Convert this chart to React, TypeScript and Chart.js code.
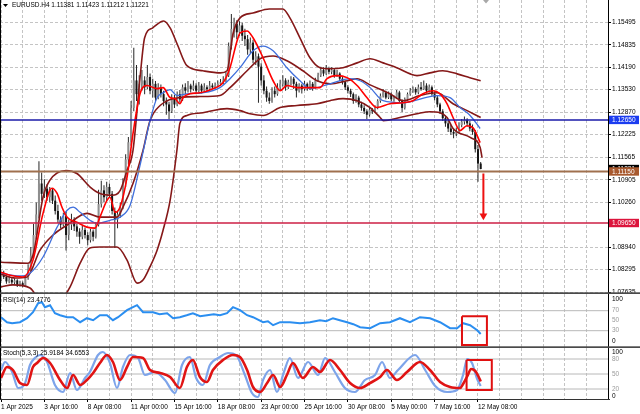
import React, { useEffect, useRef } from "react";
import { Chart, registerables } from "chart.js";

Chart.register(...registerables);

const FONT = "'Liberation Sans', Arial, sans-serif";
const GRID = "#c4c4c4";
const symbolName = "EURUSD.H4";

// H4 candles [open, high, low, close], 1 Apr 2025 00:00 -> 12 May 2025 12:00
const candles: number[][] = [
  [1.0800, 1.0822, 1.0796, 1.0815], [1.0815, 1.0826, 1.0802, 1.0808], [1.0808, 1.0812, 1.0788, 1.0795],
  [1.0795, 1.0810, 1.0790, 1.0800], [1.0800, 1.0806, 1.0785, 1.0792], [1.0792, 1.0804, 1.0787, 1.0798],
  [1.0798, 1.0801, 1.0779, 1.0785], [1.0785, 1.0797, 1.0780, 1.0790], [1.0790, 1.0795, 1.0778, 1.0782],
  [1.0782, 1.0812, 1.0780, 1.0805], [1.0805, 1.0845, 1.0800, 1.0830], [1.0830, 1.0895, 1.0825, 1.0870],
  [1.0870, 1.0962, 1.0860, 1.0930], [1.0930, 1.1025, 1.0918, 1.0990], [1.0990, 1.1145, 1.0978, 1.1080],
  [1.1080, 1.1112, 1.1030, 1.1050], [1.1050, 1.1092, 1.1038, 1.1065], [1.1065, 1.1078, 1.1030, 1.1040],
  [1.1040, 1.1070, 1.1025, 1.1060], [1.1060, 1.1066, 1.1020, 1.1030], [1.1030, 1.1045, 1.0990, 1.1000],
  [1.1000, 1.1018, 1.0965, 1.0975], [1.0975, 1.0985, 1.0950, 1.0960], [1.0960, 1.0995, 1.0955, 1.0985],
  [1.0985, 1.0998, 1.0885, 1.0930], [1.0930, 1.0975, 1.0915, 1.0960], [1.0960, 1.0992, 1.0945, 1.0975],
  [1.0975, 1.0982, 1.0942, 1.0955], [1.0955, 1.0962, 1.0925, 1.0940], [1.0940, 1.0950, 1.0905, 1.0925],
  [1.0925, 1.0958, 1.0918, 1.0945], [1.0945, 1.0952, 1.0920, 1.0930], [1.0930, 1.0938, 1.0900, 1.0915],
  [1.0915, 1.0948, 1.0908, 1.0940], [1.0940, 1.0946, 1.0912, 1.0925], [1.0925, 1.0968, 1.0920, 1.0960],
  [1.0960, 1.1062, 1.0955, 1.1020], [1.1020, 1.1088, 1.1010, 1.1060], [1.1060, 1.1075, 1.1025, 1.1040],
  [1.1040, 1.1085, 1.1030, 1.1070], [1.1070, 1.1080, 1.1040, 1.1050], [1.1050, 1.1058, 1.0990, 1.1000],
  [1.1000, 1.1010, 1.0892, 1.0975], [1.0975, 1.1000, 1.0950, 1.0990], [1.0990, 1.1025, 1.0980, 1.1010],
  [1.1010, 1.1095, 1.1005, 1.1080], [1.1080, 1.1165, 1.1070, 1.1150], [1.1150, 1.1215, 1.1135, 1.1200],
  [1.1200, 1.1320, 1.1190, 1.1300], [1.1300, 1.1475, 1.1290, 1.1380], [1.1380, 1.1425, 1.1320, 1.1340],
  [1.1340, 1.1395, 1.1310, 1.1370], [1.1370, 1.1410, 1.1350, 1.1380], [1.1380, 1.1392, 1.1340, 1.1360],
  [1.1360, 1.1425, 1.1355, 1.1390], [1.1390, 1.1400, 1.1340, 1.1350], [1.1350, 1.1385, 1.1330, 1.1370],
  [1.1370, 1.1378, 1.1320, 1.1330], [1.1330, 1.1372, 1.1325, 1.1360], [1.1360, 1.1368, 1.1330, 1.1340],
  [1.1340, 1.1350, 1.1305, 1.1320], [1.1320, 1.1330, 1.1280, 1.1310], [1.1310, 1.1318, 1.1268, 1.1290],
  [1.1290, 1.1340, 1.1285, 1.1330], [1.1330, 1.1338, 1.1300, 1.1310], [1.1310, 1.1348, 1.1305, 1.1340],
  [1.1340, 1.1352, 1.1315, 1.1325], [1.1325, 1.1368, 1.1320, 1.1360], [1.1360, 1.1372, 1.1340, 1.1350],
  [1.1350, 1.1378, 1.1345, 1.1365], [1.1365, 1.1370, 1.1345, 1.1355], [1.1355, 1.1380, 1.1350, 1.1365],
  [1.1365, 1.1372, 1.1340, 1.1350], [1.1350, 1.1375, 1.1345, 1.1365], [1.1365, 1.1370, 1.1342, 1.1350],
  [1.1350, 1.1372, 1.1346, 1.1360], [1.1360, 1.1366, 1.1348, 1.1355], [1.1355, 1.1378, 1.1352, 1.1365],
  [1.1365, 1.1372, 1.1355, 1.1360], [1.1360, 1.1374, 1.1356, 1.1365], [1.1365, 1.1380, 1.1360, 1.1370],
  [1.1370, 1.1384, 1.1364, 1.1375], [1.1375, 1.1392, 1.1368, 1.1380], [1.1380, 1.1405, 1.1375, 1.1395],
  [1.1395, 1.1490, 1.1390, 1.1480], [1.1480, 1.1573, 1.1470, 1.1530], [1.1530, 1.1562, 1.1505, 1.1545],
  [1.1545, 1.1555, 1.1500, 1.1520], [1.1520, 1.1552, 1.1510, 1.1540], [1.1540, 1.1548, 1.1495, 1.1510],
  [1.1510, 1.1530, 1.1480, 1.1500], [1.1500, 1.1512, 1.1455, 1.1470], [1.1470, 1.1505, 1.1460, 1.1490],
  [1.1490, 1.1498, 1.1430, 1.1440], [1.1440, 1.1465, 1.1425, 1.1450], [1.1450, 1.1458, 1.1315, 1.1420],
  [1.1420, 1.1430, 1.1365, 1.1380], [1.1380, 1.1395, 1.1340, 1.1350], [1.1350, 1.1362, 1.1318, 1.1330],
  [1.1330, 1.1345, 1.1312, 1.1320], [1.1320, 1.1360, 1.1315, 1.1350], [1.1350, 1.1362, 1.1330, 1.1340],
  [1.1340, 1.1372, 1.1335, 1.1360], [1.1360, 1.1382, 1.1352, 1.1370], [1.1370, 1.1395, 1.1362, 1.1380],
  [1.1380, 1.1386, 1.1350, 1.1360], [1.1360, 1.1382, 1.1355, 1.1375], [1.1375, 1.1392, 1.1366, 1.1385],
  [1.1385, 1.1390, 1.1355, 1.1370], [1.1370, 1.1376, 1.1330, 1.1350], [1.1350, 1.1372, 1.1345, 1.1365],
  [1.1365, 1.1370, 1.1342, 1.1355], [1.1355, 1.1378, 1.1350, 1.1370], [1.1370, 1.1374, 1.1350, 1.1360],
  [1.1360, 1.1380, 1.1352, 1.1370], [1.1370, 1.1375, 1.1350, 1.1360], [1.1360, 1.1388, 1.1356, 1.1380],
  [1.1380, 1.1402, 1.1375, 1.1395], [1.1395, 1.1420, 1.1390, 1.1410], [1.1410, 1.1418, 1.1392, 1.1400],
  [1.1400, 1.1425, 1.1396, 1.1415], [1.1415, 1.1420, 1.1398, 1.1405], [1.1405, 1.1418, 1.1398, 1.1410],
  [1.1410, 1.1414, 1.1388, 1.1395], [1.1395, 1.1410, 1.1390, 1.1400], [1.1400, 1.1404, 1.1378, 1.1385],
  [1.1385, 1.1392, 1.1368, 1.1375], [1.1375, 1.1380, 1.1352, 1.1360], [1.1360, 1.1366, 1.1342, 1.1350],
  [1.1350, 1.1356, 1.1332, 1.1340], [1.1340, 1.1345, 1.1312, 1.1320], [1.1320, 1.1340, 1.1315, 1.1330],
  [1.1330, 1.1335, 1.1302, 1.1310], [1.1310, 1.1318, 1.1292, 1.1300], [1.1300, 1.1308, 1.1282, 1.1290],
  [1.1290, 1.1296, 1.1268, 1.1280], [1.1280, 1.1302, 1.1275, 1.1295], [1.1295, 1.1300, 1.1282, 1.1290],
  [1.1290, 1.1308, 1.1286, 1.1300], [1.1300, 1.1325, 1.1296, 1.1320], [1.1320, 1.1342, 1.1315, 1.1335],
  [1.1335, 1.1355, 1.1330, 1.1345], [1.1345, 1.1350, 1.1325, 1.1330], [1.1330, 1.1348, 1.1326, 1.1340],
  [1.1340, 1.1345, 1.1320, 1.1325], [1.1325, 1.1336, 1.1318, 1.1330], [1.1330, 1.1352, 1.1326, 1.1345],
  [1.1345, 1.1350, 1.1315, 1.1320], [1.1320, 1.1325, 1.1288, 1.1300], [1.1300, 1.1330, 1.1295, 1.1325],
  [1.1325, 1.1345, 1.1320, 1.1340], [1.1340, 1.1358, 1.1335, 1.1350], [1.1350, 1.1362, 1.1344, 1.1355],
  [1.1355, 1.1360, 1.1338, 1.1345], [1.1345, 1.1368, 1.1340, 1.1360], [1.1360, 1.1375, 1.1350, 1.1355],
  [1.1355, 1.1380, 1.1352, 1.1365], [1.1365, 1.1372, 1.1342, 1.1350], [1.1350, 1.1368, 1.1345, 1.1360],
  [1.1360, 1.1365, 1.1335, 1.1340], [1.1340, 1.1348, 1.1322, 1.1330], [1.1330, 1.1335, 1.1302, 1.1310],
  [1.1310, 1.1315, 1.1282, 1.1290], [1.1290, 1.1296, 1.1262, 1.1270], [1.1270, 1.1278, 1.1245, 1.1255],
  [1.1255, 1.1262, 1.1230, 1.1240], [1.1240, 1.1250, 1.1222, 1.1230], [1.1230, 1.1240, 1.1212, 1.1225],
  [1.1225, 1.1242, 1.1218, 1.1230], [1.1230, 1.1258, 1.1226, 1.1250], [1.1250, 1.1268, 1.1244, 1.1260],
  [1.1260, 1.1275, 1.1252, 1.1265], [1.1265, 1.1270, 1.1245, 1.1255], [1.1255, 1.1262, 1.1232, 1.1240],
  [1.1240, 1.1252, 1.1222, 1.1230], [1.1230, 1.1236, 1.1170, 1.1180], [1.1180, 1.1192, 1.1085, 1.1138],
  [1.11381, 1.11423, 1.11212, 1.11221],
];

const dateTickIdx = [0, 16, 32, 48, 64, 80, 96, 112, 128, 144, 160, 176];
const dateTickLabels = [
  "1 Apr 2025", "3 Apr 16:00", "8 Apr 08:00", "11 Apr 00:00", "15 Apr 16:00", "18 Apr 08:00",
  "23 Apr 00:00", "25 Apr 16:00", "30 Apr 08:00", "5 May 00:00", "7 May 16:00", "12 May 08:00",
];
const priceTicks = [1.15495, 1.14835, 1.1419, 1.1353, 1.1287, 1.12225, 1.11565, 1.10905, 1.1026, 1.0894, 1.08295, 1.07635];

// Bollinger bands [bar index, price]
const bbUpper: number[][] = [
  [0, 1.0851], [10, 1.0848], [12, 1.0877], [15.5, 1.104], [18, 1.1089], [24, 1.1118], [28, 1.1109],
  [33, 1.1069], [36.5, 1.1051], [41, 1.1046], [44, 1.106], [46.5, 1.1118], [48.7, 1.1176], [51.3, 1.1388],
  [53, 1.1504], [56, 1.1533], [60, 1.1553], [62.4, 1.1533], [65, 1.1486], [68.6, 1.1423], [74.5, 1.1408],
  [81, 1.1402], [83.4, 1.1408], [85.6, 1.1515], [88.2, 1.1562], [93, 1.1576], [99, 1.1588], [104, 1.1588],
  [106.6, 1.1562], [110.3, 1.1504], [114, 1.1446], [117.7, 1.1417], [121.4, 1.1414], [126.2, 1.1417],
  [131.4, 1.1431], [136.2, 1.1443], [141, 1.1431], [146, 1.1417], [151, 1.1399], [153.5, 1.1394],
  [158.3, 1.1402], [163, 1.1408], [168.3, 1.1399], [173, 1.1388], [177, 1.1379],
];
const bbMiddle: number[][] = [
  [0, 1.0816], [5.2, 1.0805], [9.6, 1.0808], [14.4, 1.0886], [19.2, 1.093], [24.4, 1.0959], [31.7, 1.0993],
  [36.5, 1.0982], [42.8, 1.0982], [45, 1.1011], [48.7, 1.108], [52.4, 1.1176], [55, 1.1263], [58.7, 1.1307],
  [66, 1.133], [73.4, 1.1333], [80.8, 1.1336], [84.5, 1.1359], [90.8, 1.1408], [95.6, 1.1443], [100.4, 1.1451],
  [105.5, 1.1437], [111.4, 1.1408], [116.6, 1.1379], [121.4, 1.137], [127.7, 1.1379], [131.4, 1.1385],
  [136.2, 1.1367], [143.5, 1.1341], [148.3, 1.1321], [154.6, 1.1336], [160.9, 1.1344], [166.8, 1.1312],
  [172, 1.1292], [177, 1.1272],
];
const bbLower: number[][] = [
  [0, 1.0779], [4.4, 1.0785], [10.7, 1.0776], [16, 1.0725], [22, 1.074], [25.5, 1.0779], [29.2, 1.0848],
  [32.8, 1.0892], [36.5, 1.0895], [42.8, 1.0895], [46.5, 1.0857], [50.2, 1.079], [52.4, 1.0799],
  [55, 1.0838], [57.6, 1.0886], [59.8, 1.0944], [62.4, 1.1031], [64.9, 1.1176], [66, 1.1255], [68.6, 1.1278],
  [74.5, 1.1286], [83.4, 1.1298], [88.2, 1.1292], [91.9, 1.1283], [96.7, 1.1278], [103, 1.1301],
  [109.2, 1.1307], [116.6, 1.1312], [121.4, 1.1321], [126.2, 1.1327], [131.4, 1.1321], [136.2, 1.1301],
  [139.9, 1.1272], [141, 1.1263], [147.2, 1.1272], [153.5, 1.1283], [158.3, 1.1289], [162, 1.1286],
  [164.6, 1.1272], [166.8, 1.124], [173.1, 1.1214], [176.8, 1.1185], [177.5, 1.1155],
];
// Moving averages [bar index, price]
const maSlow: number[][] = [
  [0, 1.0819], [7, 1.0811], [10.7, 1.0819], [15.5, 1.0866], [20.7, 1.0953], [24.4, 1.1002], [26.6, 1.1011],
  [29.2, 1.0996], [32.8, 1.0973], [35.4, 1.0964], [40.2, 1.0973], [43.9, 1.0982], [47.6, 1.1016],
  [51.3, 1.1133], [55, 1.1263], [57.6, 1.133], [59.8, 1.1344], [62.4, 1.1353], [64.9, 1.1336],
  [68.6, 1.1341], [74.5, 1.1344], [80.8, 1.1359], [84.5, 1.1385], [88.2, 1.1417], [93, 1.1466],
  [96.7, 1.148], [100.4, 1.1466], [105.5, 1.1417], [110.3, 1.1379], [114, 1.1356], [121.4, 1.137],
  [128.8, 1.1385], [132.5, 1.1379], [136.2, 1.1359], [141, 1.1321], [148.3, 1.1315], [160.9, 1.1336],
  [165.7, 1.133], [169.4, 1.1301], [173.1, 1.1278], [176.8, 1.124],
];
const maFast: number[][] = [
  [0, 1.0822], [3.3, 1.0813], [8.1, 1.0808], [11.8, 1.0857], [15.5, 1.0993], [18.8, 1.1066], [20.7, 1.1051],
  [22.5, 1.1011], [24.4, 1.0982], [28, 1.0967], [31.7, 1.0953], [34.7, 1.095], [36.5, 1.0982], [39.1, 1.1031],
  [40.2, 1.104], [42.1, 1.0996], [43.9, 1.1011], [46.5, 1.1098], [48.7, 1.1225], [51.3, 1.1341],
  [53.9, 1.1365], [57.6, 1.1356], [59.8, 1.1359], [62.4, 1.133], [64.2, 1.1327], [66, 1.1312], [67.2, 1.133],
  [69.7, 1.1341], [73.4, 1.1344], [78.2, 1.1356], [81.9, 1.1373], [84.5, 1.1417], [87.1, 1.1495],
  [88.2, 1.1518], [90.8, 1.1524], [93, 1.1504], [96.7, 1.1446], [100.4, 1.1379], [103, 1.135],
  [105.5, 1.1365], [109.2, 1.1359], [117.7, 1.1359], [120.3, 1.1385], [124, 1.1394], [127.7, 1.1388],
  [131.4, 1.1365], [135, 1.133], [138.7, 1.1301], [143.5, 1.1312], [148.3, 1.1315], [152, 1.1321],
  [155.7, 1.1341], [159.4, 1.135], [162, 1.1341], [164.6, 1.1312], [166.8, 1.1272], [169.4, 1.1234],
  [171.9, 1.1248], [174.2, 1.1242], [176.8, 1.1199],
];

const levelBlue = 1.1265;
const levelBrown = 1.1115;
const levelRed = 1.0965;
const arrowPts: number[][] = [[178, 1.1109], [178, 1.0986]];

const rsiTitle = "RSI(14) 23.4776";
const rsiPoints: number[][] = [
  [0, 57], [2.2, 47], [4.1, 45], [7, 47], [9.6, 55], [11.8, 67], [13.7, 85], [15.1, 87], [16.2, 77],
  [18.1, 81], [19.9, 65], [21.8, 61], [24.4, 57], [26.6, 57], [29.2, 47], [31.7, 55], [34, 51], [36.5, 61],
  [39.1, 61], [41.3, 51], [43.2, 57], [46.5, 71], [48.7, 77], [50.2, 81], [52.4, 67], [56.1, 67], [58.5, 63],
  [61.3, 65], [63.5, 55], [66, 57], [68.5, 61], [70.8, 65], [73.5, 59], [76, 61], [78.5, 63], [80.8, 61],
  [83.4, 65], [85.6, 77], [88.2, 71], [90.8, 61], [93, 57], [96.7, 47], [98.5, 49], [100.4, 41], [103, 47],
  [106.6, 47], [110.3, 45], [114, 47], [117.7, 51], [120, 49], [122.5, 55], [125, 51], [127.7, 47],
  [130, 43], [132.5, 37], [136.2, 35], [139.9, 45], [143.5, 47], [147.2, 55], [150.9, 47], [154.6, 57],
  [158.3, 55], [162, 47], [165.7, 35], [168.3, 35], [170.5, 45], [173.1, 41], [175.7, 31], [177, 23.5],
];
const rsiLevels = [30, 70];
const rsiAxisVals = [100, 70, 50, 30, 0];
const rsiBox: number[][] = [[170.1, 59], [179.3, 59], [179.3, 1.5], [170.1, 1.5], [170.1, 59]];

const stochTitle = "Stoch(5,3,3) 25.9184 34.6553";
const stochMain: number[][] = [
  [0, 58], [1.5, 74], [4.1, 54], [6.3, 22], [8.9, 32], [10.7, 68], [12.5, 82], [14.4, 88], [17, 74],
  [19.9, 28], [22.9, 14], [25.5, 52], [28, 18], [31, 42], [32.8, 54], [35.8, 88], [37.6, 94], [40.2, 72],
  [42.8, 22], [45, 64], [47.6, 88], [50.6, 82], [53.1, 48], [56.8, 54], [60.5, 38], [64.2, 12], [66.8, 68],
  [69.7, 84], [72, 42], [74.5, 28], [77.1, 68], [80.8, 84], [83.8, 92], [86.7, 88], [90, 48], [92.6, 12],
  [94.8, 4], [96.7, 38], [99.3, 58], [101.8, 14], [104.4, 54], [106.6, 82], [109.6, 42], [113.3, 74],
  [117, 48], [119.6, 82], [123.2, 54], [126.9, 22], [130.6, 14], [134.3, 38], [138, 48], [140.6, 74],
  [143.5, 42], [146.5, 58], [152.8, 88], [156.5, 58], [160.2, 26], [164.6, 14], [168.3, 18], [170.5, 48],
  [172, 80], [173.8, 72], [175.7, 40], [177, 26],
];
const stochSignal: number[][] = [
  [0, 42], [2.2, 64], [4.4, 58], [7, 32], [9.6, 28], [11.8, 64], [13.3, 72], [15.5, 82], [18.1, 72],
  [21.8, 38], [24.4, 22], [26.6, 48], [29.2, 28], [31.7, 38], [34, 52], [36.5, 72], [39.1, 88], [41.3, 74],
  [43.9, 38], [46.5, 64], [48.7, 84], [52.4, 82], [55, 58], [58.7, 52], [62.4, 44], [66, 22], [68.6, 64],
  [70.8, 78], [73.4, 44], [76, 34], [78.2, 58], [81.9, 78], [85.6, 88], [88.2, 84], [90.8, 58], [93, 24],
  [95.6, 14], [98.2, 32], [100.4, 48], [103, 24], [105.5, 48], [107.7, 72], [111.4, 42], [115.1, 64],
  [117.7, 54], [121.4, 78], [125.1, 58], [128.8, 32], [132.5, 22], [136.2, 32], [139.9, 44], [142.4, 58],
  [146.1, 38], [149.8, 54], [154.6, 74], [158.3, 58], [162, 34], [165.7, 24], [169.4, 22], [170.5, 30],
  [172, 45], [173.5, 60], [175, 56], [176.1, 46], [177, 35],
];
const stochLevels = [20, 50, 80];
const stochAxisVals = [100, 80, 50, 20, 0];
const stochBox: number[][] = [[171.8, 78], [181.1, 78], [181.1, 18], [171.8, 18], [171.8, 78]];

const X_MIN = -0.37;
const X_MAX = 223.98;
const Y_MAX = 1.1614;
const Y_MIN = 1.07584;

const pts = (a: number[][]) => a.map(([x, y]) => ({ x, y }));
const hline = (v: number) => [{ x: X_MIN - 2, y: v }, { x: X_MAX + 2, y: v }];

function lineDs(data: any[], color: string, width: number, extra: any = {}) {
  return {
    type: "line",
    data,
    borderColor: color,
    backgroundColor: color,
    borderWidth: width,
    pointRadius: 0,
    fill: false,
    cubicInterpolationMode: "monotone",
    ...extra,
  };
}

function makeX(showLabels: boolean) {
  return {
    type: "linear",
    min: X_MIN,
    max: X_MAX,
    offset: false,
    afterBuildTicks: (s: any) => {
      const t: any[] = [];
      for (let v = 0; v <= X_MAX; v += 8) t.push({ value: v });
      s.ticks = t;
    },
    afterFit: (s: any) => {
      s.height = showLabels ? 15 : 0;
      s.paddingLeft = 0;
      s.paddingRight = 0;
    },
    grid: {
      display: true,
      color: GRID,
      lineWidth: 1,
      offset: false,
      drawTicks: showLabels,
      tickLength: 3,
      tickColor: (c: any) => (c.tick && dateTickIdx.indexOf(c.tick.value) >= 0 ? "#000" : "rgba(0,0,0,0)"),
    },
    border: { display: false, dash: [3, 2] },
    ticks: {
      display: showLabels,
      autoSkip: false,
      maxRotation: 0,
      minRotation: 0,
      align: "start",
      padding: 1,
      color: "#000",
      font: { family: FONT, size: 6.5 },
      callback: (v: any) => {
        const k = dateTickIdx.indexOf(Number(v));
        return k >= 0 ? dateTickLabels[k] : "";
      },
    },
  };
}

function hiddenY(min: number, max: number) {
  return {
    type: "linear",
    position: "right",
    min,
    max,
    afterFit: (s: any) => {
      s.width = 32;
      s.paddingTop = 0;
      s.paddingBottom = 0;
    },
    grid: { display: false },
    border: { display: false },
    ticks: { display: false },
  };
}

const baseOptions = {
  animation: false,
  responsive: false,
  devicePixelRatio: 1,
  events: [],
  layout: { padding: 0, autoPadding: false },
  plugins: { legend: { display: false }, tooltip: { enabled: false }, title: { display: false } },
};

function subPanelOverlay(id: string, title: string, titleY: number, axisVals: number[], clampTop: number, clampBottom: number, bottomLine: boolean) {
  return {
    id,
    afterDraw(chart: any) {
      const { ctx, chartArea: a, scales, height } = chart;
      ctx.save();
      ctx.fillStyle = "#000";
      ctx.fillRect(0, 0, 1, a.bottom);
      ctx.fillRect(a.right, 0, 1, a.bottom);
      if (bottomLine) {
        ctx.fillStyle = "#333";
        ctx.fillRect(0, a.bottom, a.right + 2, 1);
      } else {
        ctx.fillStyle = "#4a4a4a";
        ctx.fillRect(0, height - 1.7, 640, 1.7);
      }
      ctx.font = `6.5px ${FONT}`;
      ctx.textBaseline = "middle";
      ctx.textAlign = "left";
      ctx.fillStyle = "#000";
      ctx.fillText(title, 3, titleY);
      for (const v of axisVals) {
        let py = scales.y.getPixelForValue(v);
        py = Math.max(clampTop, Math.min(clampBottom, py));
        ctx.fillStyle = v === 0 || v === 100 ? "#000" : "#9a9a9a";
        ctx.fillText(String(v), a.right + 4, py);
      }
      ctx.restore();
    },
  };
}

export default function App() {
  const mainRef = useRef<HTMLCanvasElement>(null);
  const rsiRef = useRef<HTMLCanvasElement>(null);
  const stochRef = useRef<HTMLCanvasElement>(null);

  useEffect(() => {
    document.body.style.margin = "0";
    Chart.defaults.font.family = FONT;
    const charts: Chart[] = [];

    const last = candles[candles.length - 1];
    const mainOverlay = {
      id: "mainOverlay",
      afterDraw(chart: any) {
        const { ctx, chartArea: a, scales } = chart;
        ctx.save();
        ctx.fillStyle = "#000";
        ctx.fillRect(0, 0, 1, a.bottom);
        ctx.fillRect(a.right, 0, 1, a.bottom);
        ctx.fillStyle = "#4a4a4a";
        ctx.fillRect(0, 292.3, 640, 1.7);
        // header
        ctx.font = `6.5px ${FONT}`;
        ctx.textBaseline = "middle";
        ctx.textAlign = "left";
        ctx.fillStyle = "#000";
        ctx.beginPath();
        ctx.moveTo(3, 4);
        ctx.lineTo(8, 4);
        ctx.lineTo(5.5, 7);
        ctx.closePath();
        ctx.fill();
        ctx.fillText(`${symbolName} ${last.map((v) => v.toFixed(5)).join(" ")}`, 12, 5.5);
        // chart shift marker
        ctx.fillStyle = "#a8a8a8";
        ctx.beginPath();
        ctx.moveTo(483, 0);
        ctx.lineTo(489, 0);
        ctx.lineTo(486, 3.5);
        ctx.closePath();
        ctx.fill();
        // price labels on axis
        const boxes: [number, string][] = [
          [last[3], "#000000"],
          [levelBlue, "#1b3cf0"],
          [levelBrown, "#a8592e"],
          [levelRed, "#dc143c"],
        ];
        for (const [p, col] of boxes) {
          const py = scales.y.getPixelForValue(p);
          ctx.fillStyle = col;
          ctx.fillRect(a.right + 1, py - 4.2, 30, 8.4);
          ctx.fillStyle = "#fff";
          ctx.fillText(p.toFixed(5), a.right + 4, py + 0.3);
        }
        ctx.restore();
      },
    };

    const mainCfg: any = {
      type: "line",
      data: {
        datasets: [
          lineDs(pts(arrowPts), "#ee1111", 2, {
            cubicInterpolationMode: "default",
            tension: 0,
            pointRadius: [0, 4.5],
            pointStyle: "triangle",
            rotation: 180,
            pointBorderWidth: 0,
          }),
          lineDs(hline(levelBlue), "#1a1aa8", 1.5, { tension: 0 }),
          lineDs(hline(levelBrown), "#a0704e", 2, { tension: 0 }),
          lineDs(hline(levelRed), "#cc1f45", 1.5, { tension: 0 }),
          lineDs(pts(maFast), "#ff0000", 1.6),
          lineDs(pts(maSlow), "#3f6fdc", 1.3),
          lineDs(pts(bbUpper), "#851818", 1.6),
          lineDs(pts(bbMiddle), "#851818", 1.6),
          lineDs(pts(bbLower), "#851818", 1.6),
          {
            type: "bar",
            data: candles.map((c, i) => ({ x: i, y: [c[0], c[3]] })),
            backgroundColor: candles.map((c) => (c[3] >= c[0] ? "#8e8e8e" : "#141414")),
            borderWidth: 0,
            barThickness: 2,
            grouped: false,
            minBarLength: 1,
            inflateAmount: 0,
          },
          {
            type: "bar",
            data: candles.map((c, i) => ({ x: i, y: [c[2], c[1]] })),
            backgroundColor: "#262626",
            borderWidth: 0,
            barThickness: 1,
            grouped: false,
            inflateAmount: 0,
          },
        ],
      },
      options: {
        ...baseOptions,
        scales: {
          x: makeX(false),
          y: {
            type: "linear",
            position: "right",
            min: Y_MIN,
            max: Y_MAX,
            afterBuildTicks: (s: any) => {
              s.ticks = priceTicks.map((v) => ({ value: v }));
            },
            afterFit: (s: any) => {
              s.width = 32;
              s.paddingTop = 0;
              s.paddingBottom = 0;
            },
            grid: { color: GRID, drawTicks: true, tickLength: 3, tickColor: "#000" },
            border: { display: false, dash: [3, 2] },
            ticks: {
              padding: 1,
              color: "#000",
              autoSkip: false,
              font: { family: FONT, size: 6.5 },
              callback: (v: any) => Number(v).toFixed(5),
            },
          },
        },
      },
      plugins: [mainOverlay],
    };

    const rsiCfg: any = {
      type: "line",
      data: {
        datasets: [
          lineDs(pts(rsiBox), "#e01010", 2, { tension: 0, cubicInterpolationMode: "default" }),
          lineDs(pts(rsiPoints), "#2b8ef0", 2, { tension: 0, cubicInterpolationMode: "default" }),
          ...rsiLevels.map((v) => lineDs(hline(v), "#b8b8b8", 1, { tension: 0 })),
        ],
      },
      options: { ...baseOptions, scales: { x: makeX(false), y: hiddenY(-4.6, 103.4) } },
      plugins: [subPanelOverlay("rsiOverlay", rsiTitle, 6, rsiAxisVals, 5, 47, false)],
    };

    const stochCfg: any = {
      type: "line",
      data: {
        datasets: [
          lineDs(pts(stochBox), "#e01010", 2, { tension: 0, cubicInterpolationMode: "default" }),
          lineDs(pts(stochSignal), "#e01414", 2.6),
          lineDs(pts(stochMain), "#7da4ea", 2.2),
          ...stochLevels.map((v) => lineDs(hline(v), "#b8b8b8", 1, { tension: 0 })),
        ],
      },
      options: { ...baseOptions, scales: { x: makeX(true), y: hiddenY(0, 102) } },
      plugins: [subPanelOverlay("stochOverlay", stochTitle, 5, stochAxisVals, 4, 48, true)],
    };

    if (mainRef.current) charts.push(new Chart(mainRef.current, mainCfg));
    if (rsiRef.current) charts.push(new Chart(rsiRef.current, rsiCfg));
    if (stochRef.current) charts.push(new Chart(stochRef.current, stochCfg));
    return () => charts.forEach((c) => c.destroy());
  }, []);

  return (
    <div style={{ position: "relative", width: 640, height: 414, background: "#fff", overflow: "hidden" }}>
      <canvas ref={mainRef} width={640} height={294} style={{ position: "absolute", left: 0, top: 0, width: 640, height: 294 }} />
      <canvas ref={rsiRef} width={640} height={54} style={{ position: "absolute", left: 0, top: 294, width: 640, height: 54 }} />
      <canvas ref={stochRef} width={640} height={66} style={{ position: "absolute", left: 0, top: 348, width: 640, height: 66 }} />
    </div>
  );
}
